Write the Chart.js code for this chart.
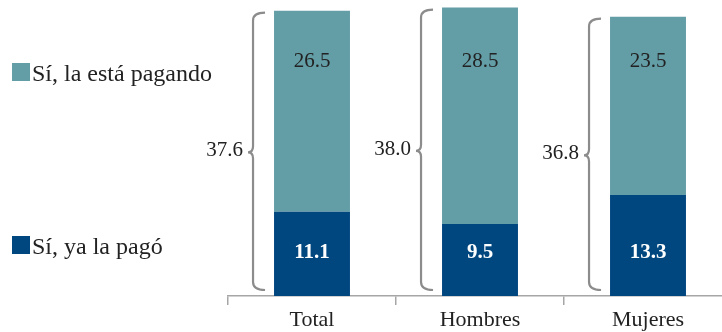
<!DOCTYPE html>
<html>
<head>
<meta charset="utf-8">
<script src="https://cdn.jsdelivr.net/npm/chart.js@4.4.1/dist/chart.umd.min.js"></script>
<style>
  html, body { margin: 0; padding: 0; background: #fff; overflow: hidden; }
  #wrap { position: relative; width: 732px; height: 332px; }
</style>
</head>
<body>
<div id="wrap"><canvas id="grafica"></canvas></div>
<script>
// datos
const categorias = ['Total', 'Hombres', 'Mujeres'];
const yaPago = [11.1, 9.5, 13.3];
const estaPagando = [26.5, 28.5, 23.5];
const totales = ['37.6', '38.0', '36.8'];
const series = ['Sí, ya la pagó', 'Sí, la está pagando'];
const colores = ['#00467f', '#639da6'];

const fuente = '"Liberation Serif", "DejaVu Serif", "Times New Roman", serif';

// leyenda a la izquierda (la serie de arriba va primero)
const leyenda = {
  id: 'leyenda',
  afterDraw(chart) {
    const ctx = chart.ctx;
    const filas = [{ ds: 1, y: 81 }, { ds: 0, y: 254 }];
    ctx.save();
    ctx.font = '24px ' + fuente;
    ctx.textBaseline = 'alphabetic';
    ctx.textAlign = 'left';
    filas.forEach(f => {
      const ds = chart.data.datasets[f.ds];
      ctx.fillStyle = ds.backgroundColor;
      ctx.fillRect(12, f.y - 18, 18, 18);
      ctx.fillStyle = '#222';
      ctx.fillText(ds.label, 32, f.y);
    });
    ctx.restore();
  }
};

// llaves con el total y etiquetas de cada segmento
const llaves = {
  id: 'llaves',
  afterDatasetsDraw(chart) {
    const ctx = chart.ctx;
    const area = chart.chartArea;
    const abajo = chart.getDatasetMeta(0).data;
    const arriba = chart.getDatasetMeta(1).data;
    ctx.save();
    arriba.forEach((bar, i) => {
      const izq = bar.x - bar.width / 2;
      const lx = izq - 21, cx = izq - 9, px = izq - 26;
      const top = bar.y + 2, bot = abajo[i].base - 6;
      const mid = (top + bot) / 2 + 1;
      ctx.strokeStyle = '#8c8c8c';
      ctx.lineWidth = 2.2;
      ctx.beginPath();
      ctx.moveTo(cx, top);
      ctx.quadraticCurveTo(lx, top, lx, top + 8);
      ctx.lineTo(lx, mid - 6);
      ctx.quadraticCurveTo(lx, mid, px, mid);
      ctx.quadraticCurveTo(lx, mid, lx, mid + 6);
      ctx.lineTo(lx, bot - 8);
      ctx.quadraticCurveTo(lx, bot, cx, bot);
      ctx.stroke();

      ctx.font = '21px ' + fuente;
      ctx.textBaseline = 'alphabetic';
      ctx.textAlign = 'right';
      ctx.fillStyle = '#222';
      ctx.fillText(totales[i], px - 5, mid + 4);

      ctx.textAlign = 'center';
      ctx.fillText(estaPagando[i].toFixed(1), bar.x, area.top + 67);
      ctx.font = 'bold 21px ' + fuente;
      ctx.fillStyle = '#fff';
      ctx.fillText(yaPago[i].toFixed(1), abajo[i].x, area.bottom - 38);
    });
    ctx.restore();
  }
};

function dibujar() {
  new Chart(document.getElementById('grafica'), {
    type: 'bar',
    data: {
      labels: categorias,
      datasets: [
        { label: series[0], data: yaPago, backgroundColor: colores[0] },
        { label: series[1], data: estaPagando, backgroundColor: colores[1] }
      ]
    },
    options: {
      responsive: true,
      maintainAspectRatio: false,
      animation: false,
      events: [],
      layout: { padding: { left: 228, top: 0, right: 0, bottom: 0 } },
      datasets: { bar: { categoryPercentage: 1, barPercentage: 0.452, borderWidth: 0 } },
      plugins: { legend: { display: false }, tooltip: { enabled: false } },
      scales: {
        x: {
          stacked: true,
          grid: { display: true, drawOnChartArea: false, drawTicks: true, tickLength: 9, color: '#a6a6a6', lineWidth: 1.5 },
          border: { display: true, color: '#a6a6a6', width: 1.5 },
          ticks: { color: '#222', font: { family: fuente, size: 22 }, padding: 2 },
          afterFit(scale) { scale.height = 36; }
        },
        y: { stacked: true, display: false, min: 0, max: 39 }
      }
    },
    plugins: [leyenda, llaves]
  });
}

// esperar a que la fuente este lista
Promise.all([
  document.fonts.load('21px "Liberation Serif"'),
  document.fonts.load('bold 21px "Liberation Serif"')
]).then(dibujar, dibujar);
</script>
</body>
</html>
